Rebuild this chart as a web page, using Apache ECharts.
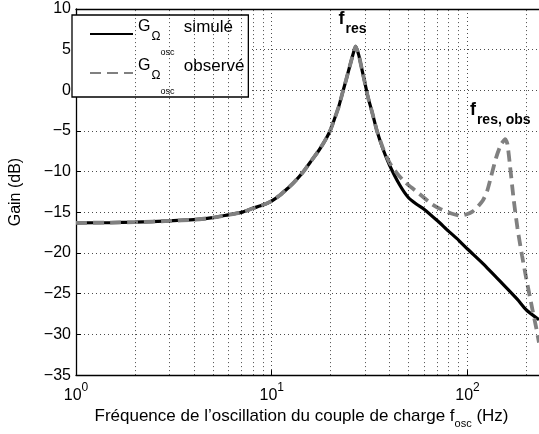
<!DOCTYPE html>
<html lang="fr">
<head>
    <meta charset="UTF-8">
    <title>Gain</title>
    <style>
        html, body { margin: 0; padding: 0; background: #fff; }
        #main { width: 539px; height: 434px; }
    </style>
</head>
<body>
<div id="main"></div>
<script src="https://cdn.jsdelivr.net/npm/echarts@6/dist/echarts.min.js"></script>
<script type="text/javascript">
    // courbe simulée
    var freqSim = [1, 1.5, 2, 3, 4, 5, 6, 7, 8, 9, 10, 11, 12, 13, 14.4, 16, 17.5, 19, 20, 21, 22, 23, 24, 25, 26, 26.8,
        27.8, 29, 30, 31, 32.5, 34.5, 37, 40, 45, 50, 55, 60, 70, 80, 90, 100, 120, 150, 180, 200, 232];
    var gainSim = [-16.3, -16.25, -16.2, -16.05, -15.9, -15.65, -15.3, -15.0, -14.5, -14.1, -13.6, -12.9, -12.1, -11.3, -10.1, -8.6, -7.3, -5.9, -4.8, -3.4, -2.0, -0.3, 1.3, 2.9, 4.4, 5.4,
        4.4, 2.4, 0.8, -0.8, -2.6, -5.0, -7.2, -9.2, -11.6, -13.2, -14.0, -14.6, -16.0, -17.3, -18.4, -19.5, -21.3, -23.7, -25.7, -27.0, -28.2];
    // courbe observée
    var freqObs = [1, 1.5, 2, 3, 4, 5, 6, 7, 8, 9, 10, 11, 12, 13, 14.4, 16, 17.5, 19, 20, 21, 22, 23, 24, 25, 26, 26.8,
        27.8, 29, 30, 31, 32.5, 34.5, 37, 40, 44, 48, 54, 60, 66, 73, 82, 92, 100, 106, 112, 120, 126, 132, 140, 148, 156,
        160, 165, 172, 180, 190, 200, 215, 225, 232];
    var gainObs = [-16.3, -16.25, -16.2, -16.05, -15.9, -15.65, -15.3, -15.0, -14.5, -14.1, -13.6, -12.9, -12.1, -11.3, -10.1, -8.6, -7.3, -5.9, -4.8, -3.4, -2.0, -0.3, 1.3, 2.9, 4.4, 5.4,
        4.4, 2.4, 0.8, -0.8, -2.6, -5.0, -7.1, -8.9, -10.3, -11.3, -12.3, -13.2, -14.0, -14.6, -15.1, -15.4, -15.2, -14.9, -14.4, -13.5, -12.4, -10.6, -8.3, -6.7, -6.0,
        -6.6, -9.3, -13.3, -16.9, -20.3, -23.2, -27.0, -29.3, -31.0];
    var minorTicks = [2, 3, 4, 5, 6, 7, 8, 9, 20, 30, 40, 50, 60, 70, 80, 90, 200];
    var peakSim = [26.8, 5.4];
    var peakObs = [156, -6.0];

    function zip(xs, ys) {
        var out = [];
        for (var i = 0; i < xs.length; i++) out.push([xs[i], ys[i]]);
        return out;
    }

    var font = 'Liberation Sans, Arial, sans-serif';
    var dotted = {color: '#000', width: 1, type: [1, 3], opacity: 0.7};
    var annRich = {
        f: {fontSize: 18, fontWeight: 'bold', lineHeight: 18, verticalAlign: 'top', color: '#000', fontFamily: font},
        s: {fontSize: 14, fontWeight: 'bold', lineHeight: 14, padding: [12, 0, 0, 1], verticalAlign: 'top', color: '#000', fontFamily: font}
    };

    var myChart = echarts.init(document.getElementById('main'));
    var option = {
        animation: false,
        textStyle: {fontFamily: font},
        grid: {left: 71, right: 0, top: 9, bottom: 57},
        legend: {
            orient: 'vertical',
            left: 72, top: 15,
            padding: [4, 4, 1, 17],
            itemWidth: 43, itemHeight: 14, itemGap: 1,
            backgroundColor: '#fff',
            borderColor: '#000', borderWidth: 1.3,
            itemStyle: {opacity: 0},
            data: ['simulé', 'observé'],
            formatter: function (name) {
                return '{g|G}{o|Ω}{c|osc}{t|  ' + name + '}';
            },
            textStyle: {
                color: '#000', fontFamily: font, padding: [4, 0, 18, 0],
                rich: {
                    g: {fontSize: 16, lineHeight: 16, verticalAlign: 'top', fontFamily: font},
                    o: {fontSize: 12, lineHeight: 12, padding: [12, 0, 0, 1], verticalAlign: 'top', fontFamily: font},
                    c: {fontSize: 9, lineHeight: 10, padding: [29, 0, 0, 0], verticalAlign: 'top', fontFamily: font},
                    t: {fontSize: 17, lineHeight: 16, verticalAlign: 'top', fontFamily: font}
                }
            }
        },
        xAxis: [{
            type: 'log', logBase: 10, min: 1, max: 232,
            name: 'Fréquence de l’oscillation du couple de charge f{s|osc} (Hz)',
            nameLocation: 'middle', nameGap: 27,
            nameTextStyle: {
                fontSize: 17, color: '#000', fontFamily: font, padding: [0, 12, 0, 0],
                rich: {s: {fontSize: 11, padding: [14, 0, 0, 0], fontFamily: font}}
            },
            axisLine: {onZero: false, lineStyle: {color: '#000', width: 1.3}},
            axisTick: {inside: true, length: 5, lineStyle: {color: '#000'}},
            axisLabel: {
                color: '#000', margin: 7, showMaxLabel: false,
                formatter: function (v) {
                    var e = Math.round(Math.log10(v));
                    if (Math.abs(Math.pow(10, e) - v) > 1e-6) return '';
                    return '{b|10}{p|' + e + '}';
                },
                rich: {
                    b: {fontSize: 16, lineHeight: 16, padding: [5, 0, 0, 0], verticalAlign: 'top', fontFamily: font},
                    p: {fontSize: 12, lineHeight: 12, verticalAlign: 'top', fontFamily: font}
                }
            },
            splitLine: {show: true, lineStyle: dotted}
        }, {
            type: 'log', logBase: 10, min: 1, max: 232, position: 'top',
            axisLine: {show: true, onZero: false, lineStyle: {color: '#000', width: 1.3}},
            axisTick: {show: false}, axisLabel: {show: false}, splitLine: {show: false}
        }],
        yAxis: {
            type: 'value', min: -35, max: 10, interval: 5,
            name: 'Gain (dB)', nameLocation: 'middle', nameGap: 52,
            nameTextStyle: {fontSize: 16, color: '#000', fontFamily: font},
            axisLine: {show: true, onZero: false, lineStyle: {color: '#000', width: 1.3}},
            axisTick: {show: true, inside: true, length: 5, lineStyle: {color: '#000'}},
            axisLabel: {
                color: '#000', fontSize: 16, margin: 5, fontFamily: font,
                formatter: function (v) { return String(v).replace('-', '\u2212'); }
            },
            splitLine: {show: true, lineStyle: dotted}
        },
        series: [{
            name: 'grille', type: 'line', data: [], silent: true,
            markLine: {
                silent: true, symbol: 'none', label: {show: false},
                lineStyle: dotted,
                data: minorTicks.map(function (v) { return {xAxis: v}; })
            }
        }, {
            name: 'simulé', type: 'line', data: zip(freqSim, gainSim),
            symbol: 'none', smooth: 0.2, z: 3,
            lineStyle: {color: '#000', width: 3.2},
            itemStyle: {color: '#000'},
            markPoint: {
                symbol: 'circle', symbolSize: 0,
                data: [{coord: peakSim}],
                label: {
                    show: true, position: 'top', distance: 18, offset: [-3, 0],
                    formatter: '{f|f}{s|res}', rich: annRich
                }
            }
        }, {
            name: 'observé', type: 'line', data: zip(freqObs, gainObs),
            symbol: 'none', smooth: 0.2, z: 4,
            lineStyle: {color: '#808080', width: 3.8, type: [11, 6]},
            itemStyle: {color: '#808080'},
            markPoint: {
                symbol: 'circle', symbolSize: 0,
                data: [{coord: peakObs}],
                label: {
                    show: true, position: 'top', distance: 20, offset: [-5, 0],
                    formatter: '{f|f}{s|res, obs}', rich: annRich
                }
            }
        }]
    };
    myChart.setOption(option);
</script>
</body>
</html>
